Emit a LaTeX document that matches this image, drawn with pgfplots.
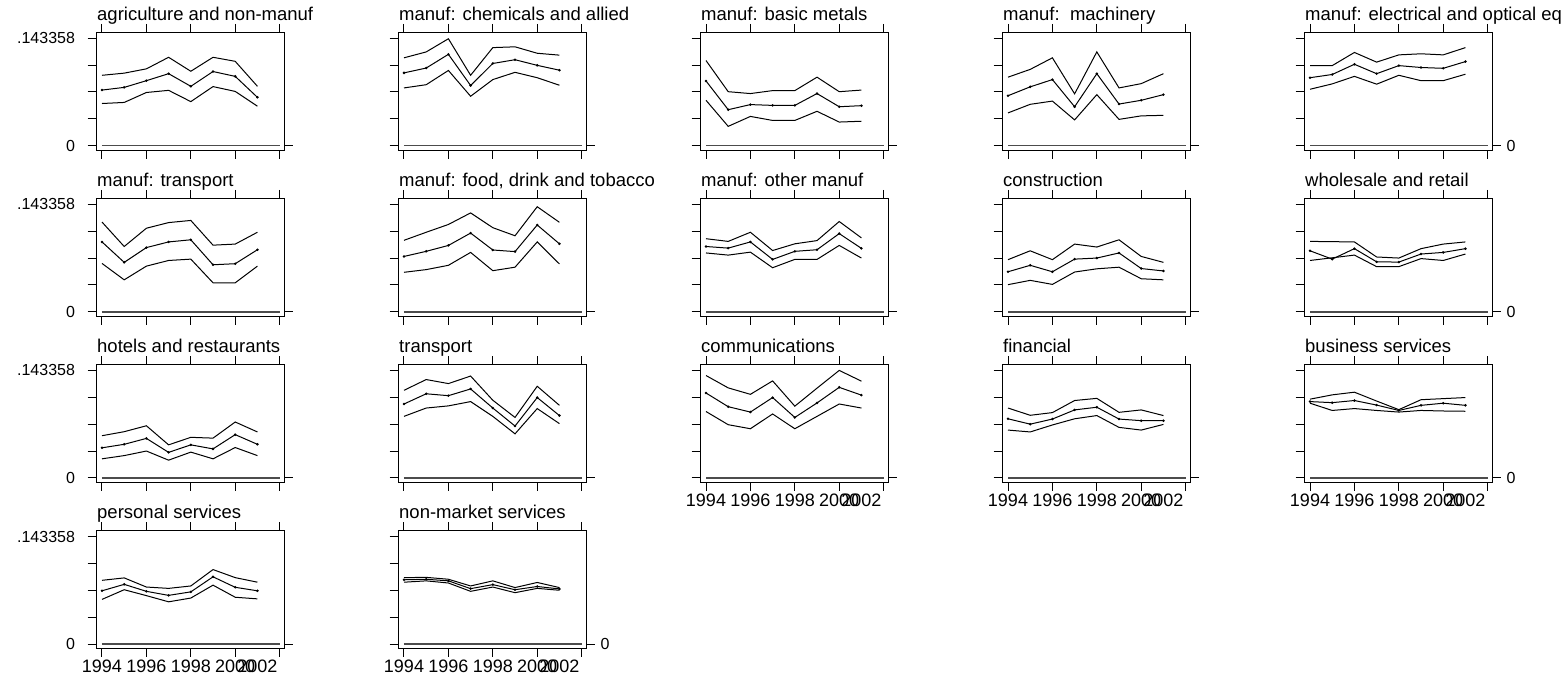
\documentclass[border=0pt]{standalone}
\usepackage{fontspec}
\setmainfont{Liberation Sans}
\usepackage{pgfplots}
\usepackage{pgfplotstable}
\pgfplotsset{compat=1.18}

% values in units of one y tick (0.143358/4)
\pgfplotstableread{
year hi est lo
1994 2.62 2.07 1.57
1995 2.70 2.17 1.61
1996 2.86 2.42 1.98
1997 3.29 2.68 2.06
1998 2.77 2.21 1.64
1999 3.29 2.76 2.20
2000 3.14 2.58 2.02
2001 2.21 1.80 1.47
}\agri
\pgfplotstableread{
year hi est lo
1994 3.27 2.71 2.15
1995 3.49 2.89 2.27
1996 3.98 3.40 2.80
1997 2.62 2.24 1.84
1998 3.65 3.06 2.46
1999 3.68 3.20 2.73
2000 3.44 2.99 2.53
2001 3.37 2.81 2.25
}\chem
\pgfplotstableread{
year hi est lo
1994 3.17 2.41 1.69
1995 2.01 1.34 0.72
1996 1.94 1.53 1.09
1997 2.05 1.50 0.94
1998 2.05 1.50 0.94
1999 2.55 1.94 1.28
2000 2.01 1.45 0.88
2001 2.07 1.49 0.91
}\metals
\pgfplotstableread{
year hi est lo
1994 2.55 1.86 1.22
1995 2.84 2.19 1.54
1996 3.27 2.46 1.66
1997 1.93 1.45 0.96
1998 3.49 2.68 1.90
1999 2.15 1.55 0.98
2000 2.31 1.69 1.11
2001 2.68 1.90 1.13
}\mach
\pgfplotstableread{
year hi est lo
1994 2.98 2.53 2.10
1995 2.98 2.65 2.30
1996 3.47 3.03 2.58
1997 3.11 2.68 2.29
1998 3.38 2.98 2.62
1999 3.42 2.91 2.42
2000 3.38 2.88 2.42
2001 3.65 3.13 2.66
}\elec
\pgfplotstableread{
year hi est lo
1994 3.34 2.60 1.80
1995 2.43 1.84 1.19
1996 3.11 2.39 1.70
1997 3.32 2.60 1.91
1998 3.40 2.68 1.96
1999 2.48 1.75 1.08
2000 2.52 1.79 1.08
2001 2.96 2.31 1.70
}\mtrans
\pgfplotstableread{
year hi est lo
1994 2.66 2.06 1.47
1995 2.96 2.25 1.57
1996 3.25 2.47 1.73
1997 3.68 2.93 2.21
1998 3.13 2.30 1.53
1999 2.83 2.24 1.66
2000 3.91 3.23 2.60
2001 3.33 2.53 1.78
}\food
\pgfplotstableread{
year hi est lo
1994 2.72 2.43 2.19
1995 2.62 2.37 2.11
1996 2.96 2.60 2.22
1997 2.28 1.95 1.64
1998 2.53 2.25 1.95
1999 2.65 2.31 1.95
2000 3.36 2.91 2.47
2001 2.75 2.36 2.00
}\other
\pgfplotstableread{
year hi est lo
1994 1.94 1.49 1.01
1995 2.27 1.73 1.17
1996 1.94 1.49 1.02
1997 2.52 1.96 1.48
1998 2.41 2.00 1.60
1999 2.68 2.19 1.66
2000 2.06 1.61 1.23
2001 1.84 1.52 1.19
}\constr
\pgfplotstableread{
year hi est lo
1994 2.62 2.27 1.91
1995 2.61 1.96 2.01
1996 2.60 2.35 2.11
1997 2.04 1.86 1.68
1998 2.00 1.85 1.68
1999 2.35 2.15 1.98
2000 2.52 2.21 1.91
2001 2.60 2.35 2.15
}\whole
\pgfplotstableread{
year hi est lo
1994 1.57 1.12 0.71
1995 1.72 1.25 0.83
1996 1.94 1.47 1.00
1997 1.23 0.95 0.66
1998 1.51 1.23 0.96
1999 1.48 1.08 0.71
2000 2.08 1.61 1.13
2001 1.71 1.25 0.83
}\hotels
\pgfplotstableread{
year hi est lo
1994 3.26 2.75 2.29
1995 3.66 3.13 2.60
1996 3.51 3.06 2.68
1997 3.79 3.31 2.84
1998 2.89 2.60 2.29
1999 2.25 1.93 1.64
2000 3.41 2.99 2.58
2001 2.70 2.32 2.02
}\transp
\pgfplotstableread{
year hi est lo
1994 3.81 3.16 2.47
1995 3.35 2.65 1.98
1996 3.11 2.45 1.83
1997 3.61 2.99 2.38
1998 2.67 2.25 1.83
1999 3.34 2.79 2.29
2000 4.00 3.37 2.75
2001 3.60 3.08 2.60
}\comm
\pgfplotstableread{
year hi est lo
1994 2.60 2.20 1.78
1995 2.33 2.00 1.71
1996 2.43 2.19 1.97
1997 2.88 2.53 2.20
1998 2.96 2.63 2.32
1999 2.44 2.19 1.88
2000 2.53 2.13 1.78
2001 2.32 2.13 1.99
}\fin
\pgfplotstableread{
year hi est lo
1994 2.93 2.84 2.78
1995 3.09 2.80 2.51
1996 3.19 2.88 2.58
1997 2.86 2.71 2.51
1998 2.54 2.51 2.45
1999 2.91 2.70 2.51
2000 2.95 2.78 2.49
2001 2.99 2.70 2.48
}\bus
\pgfplotstableread{
year hi est lo
1994 2.37 1.98 1.66
1995 2.46 2.22 2.02
1996 2.12 1.96 1.80
1997 2.07 1.81 1.57
1998 2.16 1.94 1.71
1999 2.77 2.50 2.19
2000 2.47 2.11 1.74
2001 2.30 1.98 1.68
}\pers
\pgfplotstableread{
year hi est lo
1994 2.47 2.39 2.30
1995 2.48 2.41 2.35
1996 2.41 2.35 2.27
1997 2.16 2.06 1.96
1998 2.35 2.21 2.12
1999 2.10 2.02 1.91
2000 2.29 2.14 2.07
2001 2.10 2.05 2.00
}\nonmkt

\pgfplotsset{
 panel/.style={
  scale only axis, width=188.3pt, height=117.7pt,
  xmin=1993.73, xmax=2002.21, ymin=-0.16, ymax=4.22,
  axis line style={line width=1pt, black},
  every tick/.style={black, line width=1pt},
  tick align=outside, major tick length=8.5pt,
  xtick={1994,1996,1998,2000,2002}, xticklabels={},
  xtick pos=both, xticklabel pos=lower,
  ytick={0,1,2,3,4}, yticklabels={}, ytick pos=left,
  x tick label style={font=\fontsize{18}{18}\selectfont},
  y tick label style={font=\fontsize{16}{16}\selectfont, xshift=-9pt},
  title style={at={(0,1)}, anchor=base west, inner sep=0pt, xshift=1pt, yshift=6pt,
    font=\fontsize{18.5}{18.5}\selectfont},
  clip=false, anchor=south west,
  after end axis/.code={\draw[line width=1pt] (axis cs:2002.21,0) -- ++(9pt,0);},
 },
 ci/.style={black, line width=1pt, no marks},
 est/.style={black, line width=1pt, mark=*, mark size=0.7pt},
 zero/.style={black!70, line width=1.4pt, no marks},
 ylab/.style={yticklabels={0,,,,.143358}},
 xlab/.style={xticklabels={1994,1996,1998,2000}, extra x ticks={2001},
   extra x tick labels={2002}, extra x tick style={tick style={draw=none}}},
 rlab/.style={after end axis/.append code={\node[anchor=west, inner sep=0pt,
   font=\fontsize{16}{16}\selectfont] at (axis cs:2002.21,0) [xshift=14pt] {0};}},
}

\newcommand\panel[5]{%
\begin{axis}[panel, at={(#1pt,-#2pt)}, title={#3}, #4]
\addplot[zero] coordinates {(1994,0) (2002,0)};
\addplot[ci] table[x=year,y=hi]{#5};
\addplot[est] table[x=year,y=est]{#5};
\addplot[ci] table[x=year,y=lo]{#5};
\end{axis}}

\begin{document}
\begin{tikzpicture}
\useasboundingbox (0,0) rectangle (1567pt,-680pt);
% row 1
\panel{96}{150}{agriculture and non-manuf}{ylab}{\agri}
\panel{398}{150}{manuf: chemicals and allied}{}{\chem}
\panel{700}{150}{manuf: basic metals}{}{\metals}
\panel{1002}{150}{manuf:\ \ machinery}{}{\mach}
\panel{1304}{150}{manuf: electrical and optical eq}{rlab}{\elec}
% row 2
\panel{96}{316.1}{manuf: transport}{ylab}{\mtrans}
\panel{398}{316.1}{manuf: food, drink and tobacco}{}{\food}
\panel{700}{316.1}{manuf: other manuf}{}{\other}
\panel{1002}{316.1}{construction}{}{\constr}
\panel{1304}{316.1}{wholesale and retail}{rlab}{\whole}
% row 3
\panel{96}{482.2}{hotels and restaurants}{ylab}{\hotels}
\panel{398}{482.2}{transport}{}{\transp}
\panel{700}{482.2}{communications}{xlab}{\comm}
\panel{1002}{482.2}{financial}{xlab}{\fin}
\panel{1304}{482.2}{business services}{xlab,rlab}{\bus}
% row 4
\panel{96}{648.3}{personal services}{ylab,xlab}{\pers}
\panel{398}{648.3}{non-market services}{xlab,rlab}{\nonmkt}
\end{tikzpicture}
\end{document}
